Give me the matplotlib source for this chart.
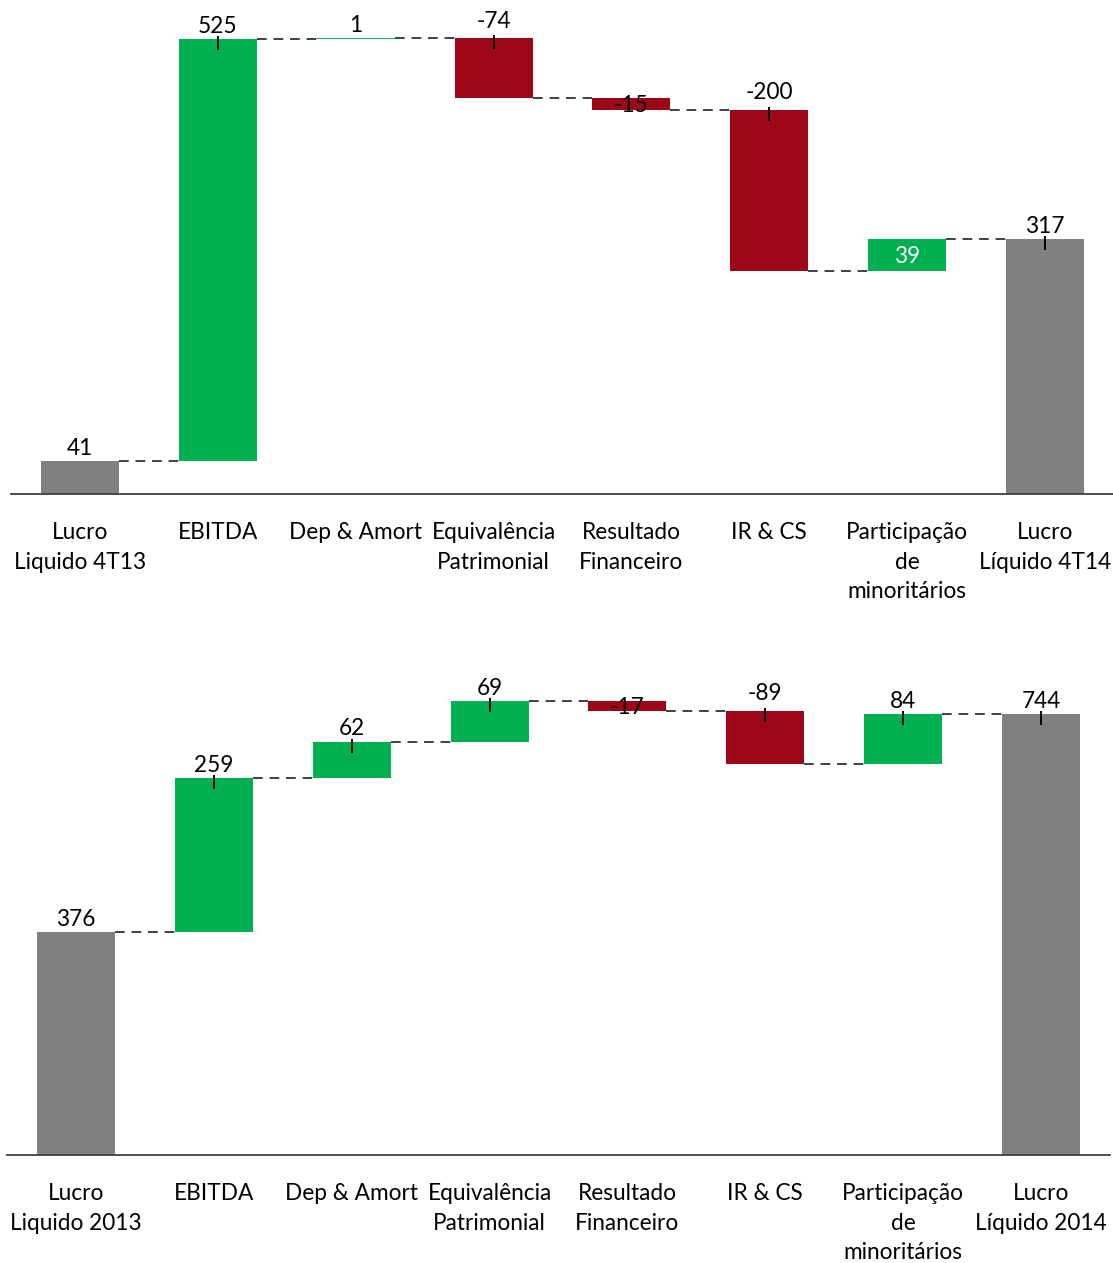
import matplotlib
matplotlib.use("Agg")
import matplotlib.pyplot as plt
from matplotlib.transforms import ScaledTranslation

plt.rcParams['font.family'] = ['Lato', 'DejaVu Sans']

# ---------------- data ----------------
top_categories = ["Lucro\nLiquido 4T13", "EBITDA", "Dep & Amort", "Equivalência\nPatrimonial",
                  "Resultado\nFinanceiro", "IR & CS", "Participação\nde\nminoritários",
                  "Lucro\nLíquido 4T14"]
top_values = [41, 525, 1, -74, -15, -200, 39, 317]
top_label_pos = ["above", "above", "above", "above", "center", "above", "inside", "above"]
top_show_tick = [False, True, False, True, False, True, False, True]

bottom_categories = ["Lucro\nLiquido 2013", "EBITDA", "Dep & Amort", "Equivalência\nPatrimonial",
                     "Resultado\nFinanceiro", "IR & CS", "Participação\nde\nminoritários",
                     "Lucro\nLíquido 2014"]
bottom_values = [376, 259, 62, 69, -17, -89, 84, 744]
bottom_label_pos = ["above", "above", "above", "above", "center", "above", "above", "above"]
bottom_show_tick = [False, True, True, True, False, True, True, True]

GREEN = "#00B050"
RED = "#9C0617"
GRAY = "#808080"
CONN = "#404040"
FS = 16.3

W, H = 1113, 1263
fig = plt.figure(figsize=(W / 100, H / 100), dpi=100)


def px_axes(left, top, right, bottom):
    return fig.add_axes([left / W, 1 - bottom / H, (right - left) / W, (bottom - top) / H])


def waterfall(ax, cats, vals, label_pos, show_tick, ymax):
    n = len(vals)
    width = 0.565
    bottoms, heights, colors = [], [], []
    running = 0
    for i, v in enumerate(vals):
        if i == 0 or i == n - 1:
            bottoms.append(0)
            heights.append(v)
            colors.append(GRAY)
            running = v
        else:
            if v >= 0:
                bottoms.append(running)
                heights.append(v)
                colors.append(GREEN)
            else:
                bottoms.append(running + v)
                heights.append(-v)
                colors.append(RED)
            running += v
    xs = list(range(n))
    ax.bar(xs, heights, bottom=bottoms, width=width, color=colors, zorder=2)

    # connectors
    levels = []
    run = 0
    for i, v in enumerate(vals):
        run = v if (i == 0 or i == n - 1) else run + v
        levels.append(run)
    for i in range(n - 1):
        ax.plot([i + width / 2, i + 1 - width / 2], [levels[i], levels[i]],
                color=CONN, lw=1.4, dashes=(5, 3.5), zorder=1)

    # ticks and labels
    for i, v in enumerate(vals):
        top = bottoms[i] + heights[i]
        if show_tick[i]:
            tr = ax.transData + ScaledTranslation(0, -4 / 100, fig.dpi_scale_trans)
            ax.plot([i], [top], marker='|', markersize=10, markeredgewidth=1.4,
                    color='black', transform=tr, zorder=4)
        pos = label_pos[i]
        if pos == "above":
            off = 4.5 if (v >= 0 or i in (0, n - 1)) else 7.5
            ax.annotate(str(v), (i, top), xytext=(0, off), textcoords='offset points',
                        ha='center', va='baseline', fontsize=FS, color='black', zorder=5)
        else:
            mid = bottoms[i] + heights[i] / 2
            ax.annotate(str(v), (i, mid), xytext=(0, -5.8), textcoords='offset points',
                        ha='center', va='baseline', fontsize=FS,
                        color='white' if pos == "inside" else 'black', zorder=5)

    ax.set_xlim(-0.5, n - 0.5)
    ax.set_ylim(0, ymax)
    ax.set_xticks(xs)
    ax.set_xticklabels(cats, fontsize=FS, linespacing=1.52)
    ax.tick_params(axis='x', length=0, pad=20)
    ax.set_yticks([])
    for s in ('top', 'right', 'left'):
        ax.spines[s].set_visible(False)
    ax.spines['bottom'].set_color(CONN)
    ax.spines['bottom'].set_linewidth(1.3)
    ax.patch.set_alpha(0)


ax1 = px_axes(11, 0, 1114, 494)
waterfall(ax1, top_categories, top_values, top_label_pos, top_show_tick, 494 / 0.8038)

ax2 = px_axes(7, 660, 1110, 1155)
waterfall(ax2, bottom_categories, bottom_values, bottom_label_pos, bottom_show_tick, 495 / 0.593)

fig.savefig("out.png", dpi=100)
